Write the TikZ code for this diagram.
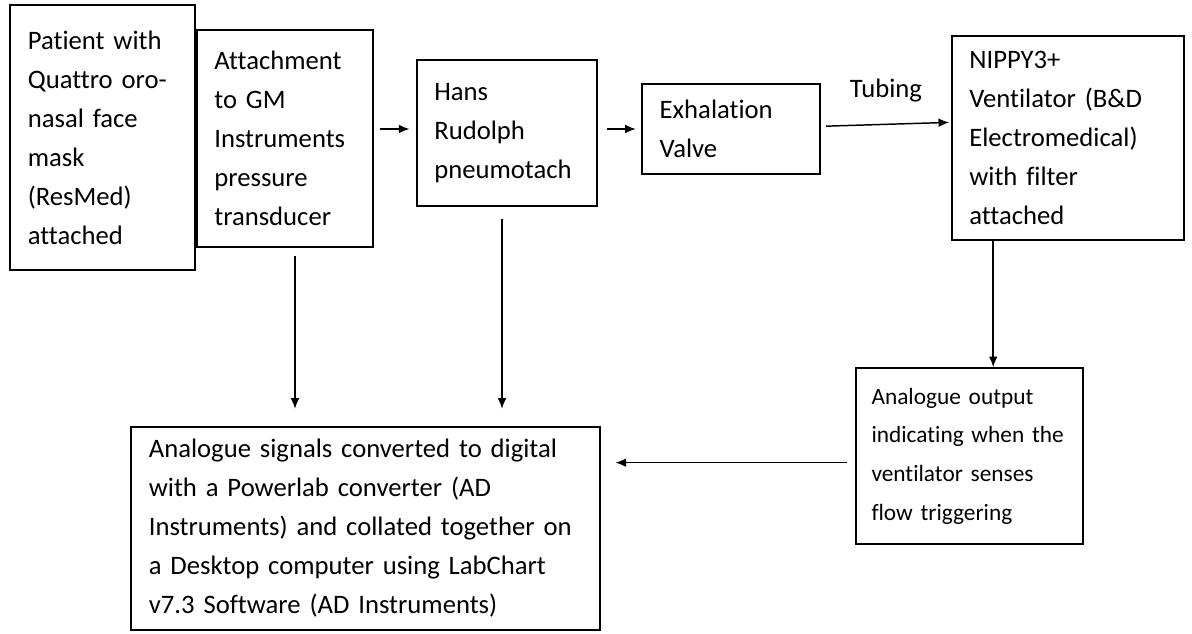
\documentclass[tikz,border=0pt]{standalone}
\usepackage{fontspec}
\setmainfont{Carlito}[Ligatures=NoCommon]
\usepackage{tikz}
\usetikzlibrary{
  arrows.meta,%
  calc,%
  positioning%
}
\tikzset{>={Latex[length=8pt, width=6.5pt]}}
\tikzset{font=\fontsize{20}{29.25}\selectfont}
% boxes of the set-up, text to the left
\tikzset{stage/.style={draw, line width=1.2pt, align=left, inner xsep=13pt,
    inner ysep=4pt}}
\tikzset{link/.style={->, line width=1.1pt}}

\begin{document}
\begin{tikzpicture}[x=0.75pt, y=-0.75pt]
                \useasboundingbox (0, 0) rectangle (1192, 634);%
                % top row
                \node[stage, minimum width=138.75pt, minimum height=198.75pt, text width=112pt] (patient) at (102.5, 137.5) {Patient with\\ Quattro oro-\\ nasal face\\ mask\\ (ResMed)\\ attached};%
                \node[stage, minimum width=132pt, minimum height=162.75pt, text width=106pt] (attach) at (285, 138.5) {Attachment\\ to GM\\ Instruments\\ pressure\\ transducer};%
                \node[stage, minimum width=135pt, minimum height=109.5pt, text width=109pt] (hans) at (507, 133) {Hans\\ Rudolph\\ pneumotach};%
                \node[stage, minimum width=133.5pt, minimum height=67.5pt, text width=107pt] (valve) at (731, 129) {Exhalation\\ Valve};%
                \node[stage, minimum width=174pt, minimum height=153pt, text width=148pt] (nippy) at (1068, 138) {NIPPY3+\\ Ventilator (B\&D\\ Electromedical)\\ with filter\\ attached};%
                % bottom row
                \node[stage, inner xsep=11.5pt, minimum width=170.25pt, minimum height=132pt, text width=147pt, font=\fontsize{17.5}{29}\selectfont] (trigger) at (969.5, 456) {Analogue output\\ indicating when the\\ ventilator senses\\ flow triggering};%
                \node[stage, minimum width=351.75pt, minimum height=152.25pt, text width=325pt] (powerlab) at (365.5, 528.5) {Analogue signals converted to digital\\ with a Powerlab converter (AD\\ Instruments) and collated together on\\ a Desktop computer using LabChart\\ v7.3 Software (AD Instruments)};%
                % air flow
                \draw[link, shorten <=5pt, shorten >=5pt] (attach.east |- valve.west) -- (hans.west |- valve.west);%
                \draw[link, shorten <=7pt, shorten >=4pt] (hans.east |- valve.west) -- (valve.west);%
                \draw[link, shorten <=4pt, shorten >=1.5pt] ([yshift=2pt]valve.east) -- node[above=13pt] {Tubing} ([yshift=5pt]valve.east -| nippy.west);%
                % signals
                \draw[link, shorten <=6pt, shorten >=13pt] ([xshift=7.5pt]attach.south) -- ([xshift=7.5pt]attach.south |- powerlab.north);%
                \draw[link, shorten <=9pt, shorten >=13pt] ([xshift=-3.75pt]hans.south) -- ([xshift=-3.75pt]hans.south |- powerlab.north);%
                \draw[link] ([xshift=31.5pt]nippy.south west) -- ([xshift=31.5pt]nippy.south west |- trigger.north);%
                \draw[link, shorten <=6pt, shorten >=11pt] ([yshift=-5pt]trigger.west) -- ([yshift=-5pt]trigger.west -| powerlab.east);%
              \end{tikzpicture}
\end{document}
